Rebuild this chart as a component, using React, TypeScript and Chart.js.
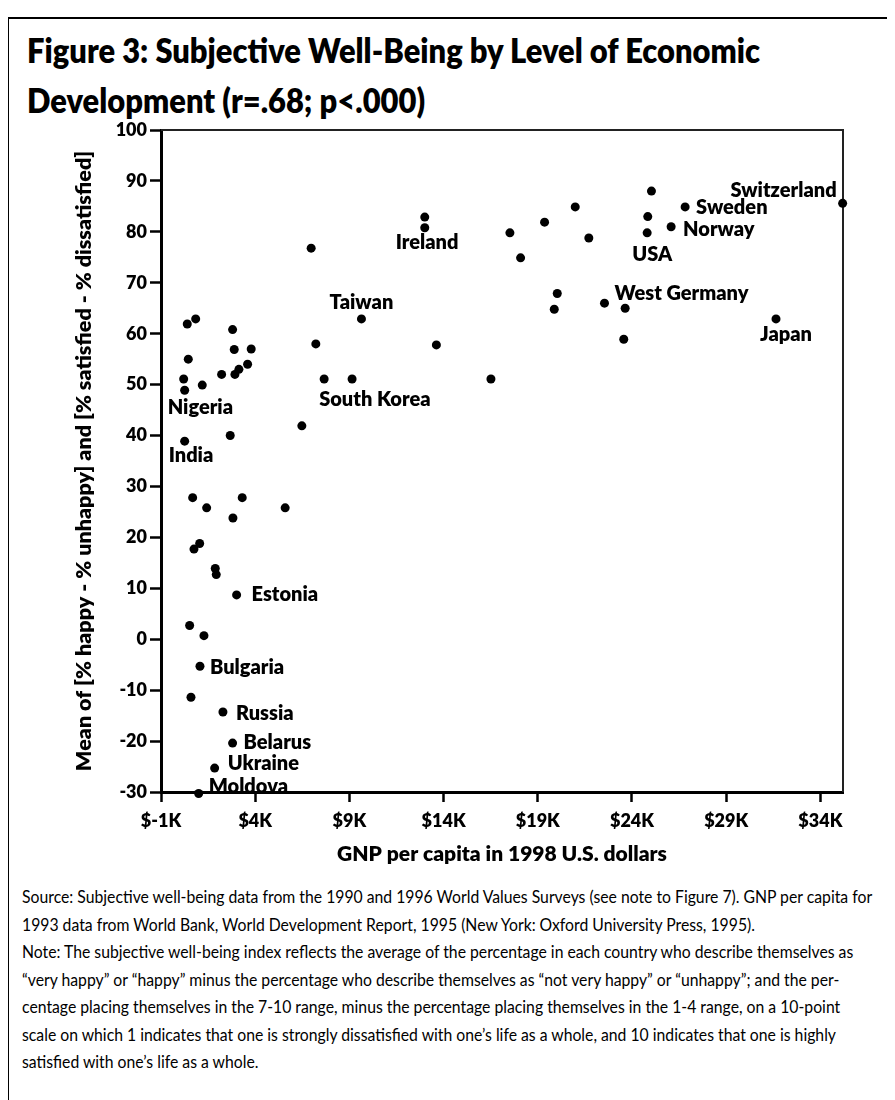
import React, { useEffect, useLayoutEffect, useRef } from 'react';
import { Chart, registerables } from 'chart.js';

Chart.register(...registerables);

// ---- Data ----
const gnpPerCapita = [
  394, 840, 448, 203, 256, 1190, 256, 2800, 2887, 3788, 3596, 3135, 2923, 2218, 2675,
  6970, 9640, 7218, 7660, 9143, 6476, 13000, 13000, 13617, 16513, 17520, 18087, 19360,
  20987, 20033, 19874, 21709, 25033, 24837, 24805, 26820, 26077, 35180, 22540, 23637,
  23563, 31644, 680, 1423, 3311, 2818, 5591, 750, 1052, 1880, 1933, 3013, 520, 1280,
  1068, 591, 2287, 2800, 1847, 999,
];

const wellBeing = [
  61.9, 62.9, 55.0, 51.1, 48.9, 49.9, 38.9, 60.8, 56.9, 57.0, 54.0, 53.0, 52.0, 52.0, 40.0,
  76.8, 62.9, 58.0, 51.1, 51.1, 41.9, 82.9, 80.8, 57.8, 51.1, 79.8, 74.9, 81.9,
  84.9, 67.9, 64.8, 78.8, 88.0, 83.0, 79.8, 84.9, 81.0, 85.6, 66.0, 65.0,
  58.9, 62.9, 27.8, 25.8, 27.8, 23.8, 25.8, 17.7, 18.8, 13.9, 12.7, 8.7, 2.7, 0.7,
  -5.3, -11.4, -14.3, -20.4, -25.3, -30.3,
];

const countries = [
  '', '', '', '', 'Nigeria', '', 'India', '', '', '', '', '', '', '', '',
  '', 'Taiwan', '', 'South Korea', '', '', '', 'Ireland', '', '', '', '', '',
  '', '', '', '', '', '', 'USA', 'Sweden', 'Norway', 'Switzerland', 'West Germany', '',
  '', 'Japan', '', '', '', '', '', '', '', '', '', 'Estonia', '', '',
  'Bulgaria', '', 'Russia', 'Belarus', 'Ukraine', 'Moldova',
];

const xTickValues = [-1000, 4000, 9000, 14000, 19000, 24000, 29000, 34000];
const yTickValues = [-30, -20, -10, 0, 10, 20, 30, 40, 50, 60, 70, 80, 90, 100];

const titleLines = [
  'Figure 3: Subjective Well-Being by Level of Economic',
  'Development (r=.68; p<.000)',
];
const xAxisTitle = 'GNP per capita in 1998 U.S. dollars';
const yAxisTitle = 'Mean of [% happy - % unhappy] and [% satisfied - % dissatisfied]';
const footnoteLines = [
  'Source: Subjective well-being data from the 1990 and 1996 World Values Surveys (see note to Figure 7). GNP per capita for',
  '1993 data from World Bank, World Development Report, 1995 (New York: Oxford University Press, 1995).',
  'Note: The subjective well-being index reflects the average of the percentage in each country who describe themselves as',
  '\u201cvery happy\u201d or \u201chappy\u201d minus the percentage who describe themselves as \u201cnot very happy\u201d or \u201cunhappy\u201d; and the per-',
  'centage placing themselves in the 7-10 range, minus the percentage placing themselves in the 1-4 range, on a 10-point',
  'scale on which 1 indicates that one is strongly dissatisfied with one\u2019s life as a whole, and 10 indicates that one is highly',
  'satisfied with one\u2019s life as a whole.',
];

// ---- Label placement (style, offsets from the point in px) ----
const labelPlacement: Record<string, { dx: number; dy: number; align: CanvasTextAlign }> = {
  Nigeria: { dx: -17, dy: 17, align: 'left' },
  India: { dx: -16, dy: 14, align: 'left' },
  Taiwan: { dx: 0, dy: -16, align: 'center' },
  'South Korea': { dx: -5, dy: 21, align: 'left' },
  Ireland: { dx: -29, dy: 15, align: 'left' },
  USA: { dx: -15, dy: 22, align: 'left' },
  Sweden: { dx: 11, dy: 1, align: 'left' },
  Norway: { dx: 12, dy: 3, align: 'left' },
  Switzerland: { dx: -6, dy: -13, align: 'right' },
  'West Germany': { dx: 10, dy: -10, align: 'left' },
  Japan: { dx: -16, dy: 16, align: 'left' },
  Estonia: { dx: 15, dy: 0, align: 'left' },
  Bulgaria: { dx: 10, dy: 1, align: 'left' },
  Russia: { dx: 13, dy: 1, align: 'left' },
  Belarus: { dx: 11, dy: -1, align: 'left' },
  Ukraine: { dx: 13, dy: -5, align: 'left' },
  Moldova: { dx: 10, dy: -7, align: 'left' },
};

const FONT = 'Lato, "Open Sans", sans-serif';

const pointLabelPlugin = {
  id: 'pointLabels',
  afterDatasetsDraw(chart: any) {
    const ctx = chart.ctx;
    const xs = chart.scales.x;
    const ys = chart.scales.y;
    ctx.save();
    ctx.font = `800 20px ${FONT}`;
    ctx.fillStyle = '#000';
    ctx.textBaseline = 'middle';
    countries.forEach((name, i) => {
      if (!name) return;
      const p = labelPlacement[name];
      const px = xs.getPixelForValue(gnpPerCapita[i]);
      const py = ys.getPixelForValue(wellBeing[i]);
      ctx.textAlign = p.align;
      ctx.fillText(name, px + p.dx, py + p.dy);
    });
    ctx.restore();
  },
};

const framePlugin = {
  id: 'frame',
  beforeDatasetsDraw(chart: any) {
    const { ctx, chartArea } = chart;
    ctx.save();
    ctx.strokeStyle = '#222';
    ctx.lineWidth = 2;
    ctx.beginPath();
    ctx.moveTo(chartArea.left, chartArea.top);
    ctx.lineTo(chartArea.right, chartArea.top);
    ctx.lineTo(chartArea.right, chartArea.bottom);
    ctx.stroke();
    ctx.restore();
  },
};

function ScatterChart() {
  const canvasRef = useRef<HTMLCanvasElement | null>(null);
  useEffect(() => {
    if (!canvasRef.current) return;
    const chart = new Chart(canvasRef.current, {
      type: 'scatter',
      data: {
        datasets: [
          {
            data: gnpPerCapita.map((x, i) => ({ x, y: wellBeing[i] })),
            backgroundColor: '#000',
            borderWidth: 0,
            pointRadius: 4.5,
            clip: false,
          } as any,
        ],
      },
      options: {
        animation: false,
        responsive: false,
        devicePixelRatio: 1,
        layout: { padding: { left: 0, top: 15, right: 42, bottom: 0 } },
        plugins: { legend: { display: false }, tooltip: { enabled: false } },
        scales: {
          x: {
            type: 'linear',
            min: -1000,
            max: 35200,
            afterBuildTicks: (s: any) => {
              s.ticks = xTickValues.map((v) => ({ value: v }));
            },
            afterFit: (s: any) => {
              s.height = 88;
            },
            ticks: {
              color: '#000',
              padding: 8,
              maxRotation: 0,
              autoSkip: false,
              font: { family: FONT, size: 18, weight: 800 },
              callback: (v: any) => `$${Number(v) / 1000}K`,
            },
            grid: {
              display: true,
              drawOnChartArea: false,
              drawTicks: true,
              tickLength: 10,
              tickWidth: 2.5,
              tickColor: '#000',
            },
            border: { display: true, color: '#000', width: 3 },
            title: {
              display: true,
              text: xAxisTitle,
              color: '#000',
              font: { family: FONT, size: 21, weight: 800 },
              padding: { top: 0, bottom: 13 },
            },
          },
          y: {
            type: 'linear',
            min: -30,
            max: 100,
            afterBuildTicks: (s: any) => {
              s.ticks = yTickValues.map((v) => ({ value: v }));
            },
            afterFit: (s: any) => {
              s.width = 121;
            },
            ticks: {
              color: '#000',
              padding: 3,
              autoSkip: false,
              font: { family: FONT, size: 18, weight: 800 },
            },
            grid: {
              display: true,
              drawOnChartArea: false,
              drawTicks: true,
              tickLength: 11,
              tickWidth: 2.5,
              tickColor: '#000',
            },
            border: { display: true, color: '#000', width: 3 },
            title: {
              display: true,
              text: yAxisTitle,
              color: '#000',
              font: { family: FONT, size: 21.5, weight: 800 },
              padding: { top: 31, bottom: 0 },
            },
          },
        },
      },
      plugins: [framePlugin, pointLabelPlugin],
    } as any);
    return () => chart.destroy();
  }, []);
  return <canvas ref={canvasRef} width={845} height={765} style={{ display: 'block', width: 845, height: 765 }} />;
}

export default function App() {
  const titleLineRef = useRef<HTMLSpanElement | null>(null);
  const titleRef = useRef<HTMLDivElement | null>(null);
  const footLineRef = useRef<HTMLSpanElement | null>(null);
  const footRef = useRef<HTMLDivElement | null>(null);

  useLayoutEffect(() => {
    const fit = () => {
      if (titleLineRef.current && titleRef.current) {
        const w = titleLineRef.current.offsetWidth;
        if (w > 0) titleRef.current.style.transform = `scaleX(${733 / w})`;
      }
      if (footLineRef.current && footRef.current) {
        const w = footLineRef.current.offsetWidth;
        if (w > 0) footRef.current.style.transform = `scaleX(${850 / w})`;
      }
    };
    fit();
    if ((document as any).fonts?.ready) (document as any).fonts.ready.then(fit);
  }, []);

  return (
    <div style={{ position: 'relative', width: 887, height: 1092, overflow: 'hidden' }}>
      <div
        style={{
          position: 'absolute',
          left: -1,
          top: 9,
          width: 900,
          height: 1100,
          borderLeft: '2px solid #000',
          borderTop: '2px solid #000',
        }}
      />
      <div
        ref={titleRef}
        style={{
          position: 'absolute',
          left: 19,
          top: 17,
          fontFamily: FONT,
          fontWeight: 800,
          fontSize: 34,
          lineHeight: '50px',
          color: '#000',
          whiteSpace: 'nowrap',
          transformOrigin: 'left top',
        }}
      >
        {titleLines.map((t, i) => (
          <div key={i}>
            <span ref={i === 0 ? titleLineRef : undefined}>{t}</span>
          </div>
        ))}
      </div>
      <div style={{ position: 'absolute', left: 32, top: 107 }}>
        <ScatterChart />
      </div>
      <div
        ref={footRef}
        style={{
          position: 'absolute',
          left: 14,
          top: 875,
          fontFamily: FONT,
          fontSize: 18,
          lineHeight: '27.5px',
          color: '#000',
          whiteSpace: 'nowrap',
          transformOrigin: 'left top',
        }}
      >
        {footnoteLines.map((t, i) => (
          <div key={i}>
            <span ref={i === 0 ? footLineRef : undefined}>{t}</span>
          </div>
        ))}
      </div>
    </div>
  );
}
